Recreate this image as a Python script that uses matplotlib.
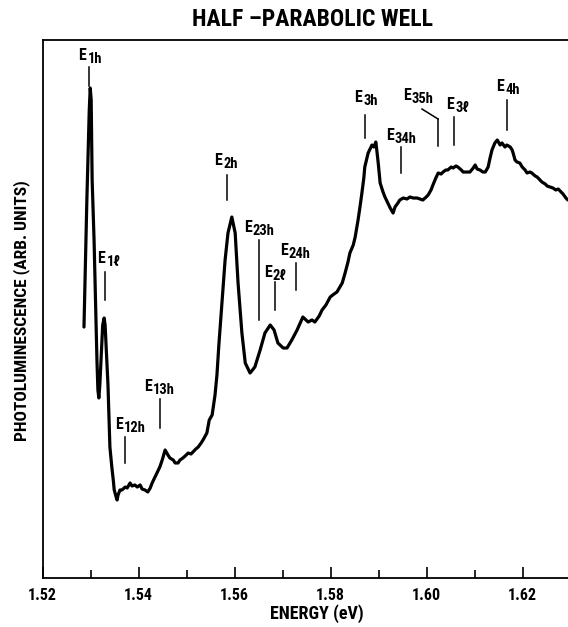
import matplotlib
matplotlib.use("Agg")
import matplotlib.pyplot as plt
from matplotlib import font_manager as fm
from matplotlib.ticker import MultipleLocator
from matplotlib.offsetbox import TextArea, HPacker, VPacker, DrawingArea, AnnotationBbox

# ---------------- data ----------------
energy = [
    1.5286, 1.5292, 1.5297, 1.5299, 1.5301, 1.5303, 1.5307, 1.5309, 1.5311, 1.5313,
    1.5315, 1.5317, 1.5319, 1.5322, 1.5325, 1.5328, 1.5330, 1.5333, 1.5336, 1.5340,
    1.5344, 1.5347, 1.5349, 1.5353, 1.5355, 1.5357, 1.5361, 1.5365, 1.5372, 1.5376,
    1.5382, 1.5386, 1.5392, 1.5397, 1.5403, 1.5407, 1.5413, 1.5419, 1.5424, 1.5428,
    1.5434, 1.5438, 1.5444, 1.5449, 1.5455, 1.5461, 1.5465, 1.5472, 1.5476, 1.5482,
    1.5486, 1.5492, 1.5499, 1.5503, 1.5509, 1.5513, 1.5519, 1.5524, 1.5530, 1.5534,
    1.5542, 1.5547, 1.5553, 1.5559, 1.5563, 1.5567, 1.5574, 1.5580, 1.5586, 1.5594,
    1.5601, 1.5607, 1.5615, 1.5622, 1.5632, 1.5642, 1.5653, 1.5663, 1.5674, 1.5682,
    1.5690, 1.5701, 1.5709, 1.5719, 1.5730, 1.5742, 1.5753, 1.5761, 1.5767, 1.5776,
    1.5782, 1.5790, 1.5799, 1.5807, 1.5813, 1.5819, 1.5824, 1.5830, 1.5836, 1.5840,
    1.5847, 1.5851, 1.5857, 1.5861, 1.5865, 1.5869, 1.5871, 1.5878, 1.5882, 1.5886,
    1.5890, 1.5894, 1.5896, 1.5899, 1.5903, 1.5909, 1.5913, 1.5919, 1.5924, 1.5930,
    1.5934, 1.5940, 1.5944, 1.5951, 1.5959, 1.5965, 1.5972, 1.5980, 1.5986, 1.5992,
    1.5999, 1.6003, 1.6009, 1.6013, 1.6019, 1.6024, 1.6030, 1.6034, 1.6040, 1.6044,
    1.6051, 1.6055, 1.6061, 1.6065, 1.6072, 1.6076, 1.6084, 1.6090, 1.6097, 1.6101,
    1.6105, 1.6111, 1.6117, 1.6122, 1.6128, 1.6132, 1.6136, 1.6142, 1.6147, 1.6153,
    1.6157, 1.6163, 1.6167, 1.6174, 1.6178, 1.6180, 1.6184, 1.6188, 1.6194, 1.6199,
    1.6205, 1.6209, 1.6215, 1.6219, 1.6226, 1.6230, 1.6236, 1.6240, 1.6247, 1.6251,
    1.6257, 1.6263, 1.6269, 1.6274, 1.6280, 1.6284, 1.6290, 1.6294,
]
intensity = [
    46.65, 70.26, 86.99, 91.08, 88.85, 73.98, 62.83, 55.39, 47.96, 40.52,
    34.94, 33.46, 35.87, 41.45, 47.03, 48.33, 47.03, 41.45, 35.87, 24.35,
    20.63, 18.22, 16.36, 15.06, 14.50, 15.43, 16.36, 16.36, 16.91, 16.73,
    17.66, 17.10, 17.29, 16.91, 17.29, 16.54, 16.36, 15.99, 16.73, 17.66,
    18.77, 19.52, 20.63, 21.93, 23.79, 22.86, 22.30, 21.93, 21.38, 21.38,
    21.93, 22.30, 22.86, 23.23, 23.05, 23.42, 23.98, 24.35, 25.09, 25.65,
    26.95, 29.37, 30.30, 34.01, 37.73, 43.31, 51.67, 59.11, 64.13, 67.10,
    64.13, 54.83, 45.54, 39.96, 38.10, 39.22, 42.38, 45.54, 47.03, 46.10,
    43.68, 42.75, 42.75, 44.24, 46.10, 48.51, 47.58, 47.96, 47.58, 48.70,
    49.81, 50.74, 52.23, 52.79, 53.16, 54.09, 54.83, 56.69, 58.74, 60.41,
    61.90, 63.38, 66.54, 68.96, 71.56, 74.35, 76.39, 79.00, 79.74, 80.48,
    80.11, 81.04, 79.55, 77.14, 73.42, 71.75, 70.82, 69.70, 68.77, 67.84,
    68.96, 69.70, 70.26, 70.63, 70.45, 70.82, 70.63, 70.63, 70.45, 70.26,
    70.82, 71.19, 72.12, 73.05, 74.35, 75.28, 75.09, 75.46, 75.84, 75.84,
    76.39, 76.21, 76.58, 76.39, 75.84, 75.46, 75.46, 75.46, 76.21, 76.77,
    76.02, 75.84, 75.46, 75.46, 76.39, 78.07, 79.55, 80.86, 81.41, 80.48,
    80.86, 80.11, 80.48, 80.11, 79.55, 79.00, 77.70, 77.33, 77.14, 76.39,
    75.84, 75.28, 75.46, 75.28, 74.72, 74.54, 73.98, 73.61, 73.23, 72.86,
    72.68, 72.49, 72.12, 72.30, 71.75, 71.38, 70.63, 70.26,
]

x_major_ticks = [1.52, 1.54, 1.56, 1.58, 1.60, 1.62]
x_tick_labels = ["1.52", "1.54", "1.56", "1.58", "1.60", "1.62"]

# transition labels: subscript text, label centre (energy, height)
trans_sub = ["1h", "1ℓ", "12h", "13h", "2h", "23h", "2ℓ", "24h",
             "3h", "34h", "35h", "3ℓ", "4h"]
label_energy = [1.5299, 1.5338, 1.5382, 1.5444, 1.5582, 1.5651, 1.5684, 1.5726,
                1.5874, 1.5947, 1.5982, 1.6065, 1.6169]
label_height = [96.8, 59.1, 28.3, 35.3, 77.3, 64.9, 56.5, 60.6,
                89.0, 82.0, 89.4, 87.7, 91.1]
# marker lines: energy, bottom, top
mark_energy = [1.52965, 1.53298, 1.53715, 1.54444, 1.55840, 1.56506, 1.56840,
               1.57277, 1.58715, 1.59465, 1.60235, 1.60569, 1.61673]
mark_bottom = [91.45, 51.67, 21.38, 27.88, 70.26, 47.96, 49.81, 53.53,
               81.78, 75.28, 80.30, 80.48, 83.27]
mark_top = [94.98, 56.88, 26.21, 33.27, 74.91, 62.83, 55.02, 58.55,
            86.06, 80.11, 85.32, 85.69, 88.85]
# E35h leader bends towards its label
e35_leader_energy = [1.59902, 1.60235]
e35_leader_height = [87.17, 85.32]

# ---------------- fonts ----------------
available = {f.name for f in fm.fontManager.ttflist}
FONT = "DejaVu Sans"
for cand in ["Liberation Sans Narrow", "DejaVu Sans Condensed", "Roboto Condensed",
             "Open Sans Condensed", "Liberation Sans"]:
    if cand in available:
        FONT = cand
        break
FAM = [FONT, "DejaVu Sans"]
plt.rcParams["font.family"] = FAM

# ---------------- figure ----------------
W, H = 568, 627
fig = plt.figure(figsize=(W / 100, H / 100), dpi=100)
ax_left, ax_right, ax_top, ax_bot = 42.7, 570.7, 40.0, 578.0
ax = fig.add_axes([ax_left / W, 1 - ax_bot / H, (ax_right - ax_left) / W, (ax_bot - ax_top) / H])

ax.plot(energy, intensity, color="black", lw=2.3, solid_joinstyle="round",
        solid_capstyle="round")

ax.set_xlim(1.52, 1.63)
ax.set_ylim(0, 100)
ax.set_yticks([])
ax.set_xticks(x_major_ticks)
ax.set_xticklabels(x_tick_labels, fontsize=11.5, fontweight="bold", family=FAM)
ax.xaxis.set_minor_locator(MultipleLocator(0.01))
ax.tick_params(axis="x", which="major", direction="in", length=8, width=1.2, pad=7)
ax.tick_params(axis="x", which="minor", direction="in", length=5.5, width=1.2)
for s in ["left", "top", "bottom"]:
    ax.spines[s].set_linewidth(1.3)
ax.spines["right"].set_visible(False)

# marker lines
for e, b, t in zip(mark_energy, mark_bottom, mark_top):
    ax.plot([e, e], [b, t], color="black", lw=1.1)
ax.plot(e35_leader_energy, e35_leader_height, color="black", lw=1.1)

# labels E with lowered subscript
def e_label(x, y, sub):
    big = TextArea("E", textprops=dict(fontsize=11.5, fontweight="bold", family=FAM))
    small = TextArea(sub, textprops=dict(fontsize=10.5, fontweight="bold", family=FAM))
    spacer = DrawingArea(1, 3.2, 0, 0)
    sub_box = VPacker(children=[spacer, small], align="left", pad=0, sep=0)
    box = HPacker(children=[big, sub_box], align="top", pad=0, sep=0.8)
    ab = AnnotationBbox(box, (x, y), xycoords="data", frameon=False,
                        box_alignment=(0.5, 0.5), pad=0)
    ax.add_artist(ab)

for sub, x, y in zip(trans_sub, label_energy, label_height):
    e_label(x, y, sub)

fig.text(312 / W, 1 - 20 / H, "HALF –PARABOLIC WELL", ha="center", va="center",
         fontsize=17, fontweight="bold", family=FAM)
fig.text(317 / W, 1 - 614 / H, "ENERGY (eV)", ha="center", va="center",
         fontsize=13, fontweight="bold", family=FAM)
fig.text(22 / W, 1 - 311 / H, "PHOTOLUMINESCENCE (ARB. UNITS)", ha="center",
         va="center", rotation=90, fontsize=12.5, fontweight="bold", family=FAM)

fig.savefig("out.png", dpi=100)
